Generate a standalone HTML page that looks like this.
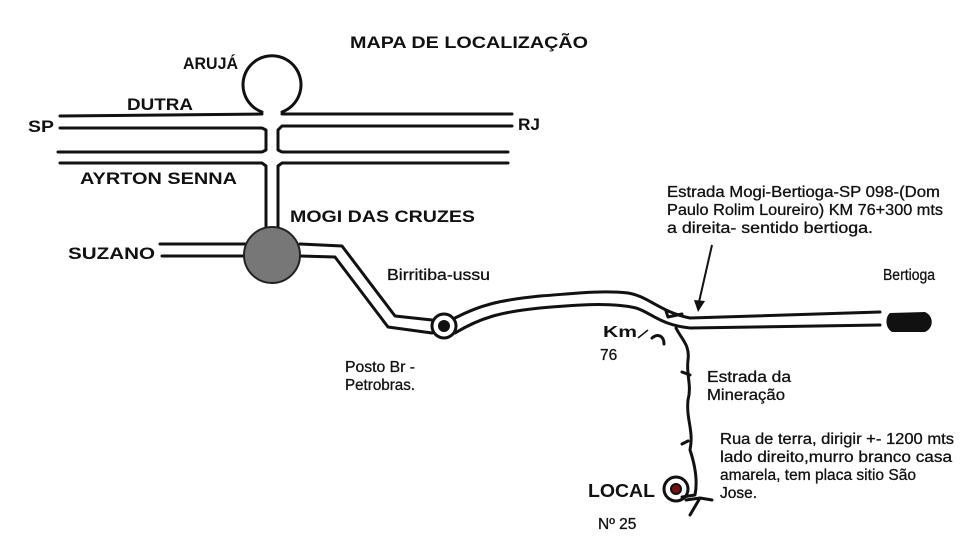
<!DOCTYPE html>
<html><head><meta charset="utf-8"><style>
html,body{margin:0;padding:0;background:#fff;}
svg{display:block;}
.t{font-family:"Liberation Sans",Arial,sans-serif;font-size:15.5px;fill:#111;stroke:#111;stroke-width:0.3;}
.b{font-family:"Liberation Sans",Arial,sans-serif;font-weight:bold;fill:#111;}
</style></head><body>
<svg width="977" height="550" viewBox="0 0 977 550" xmlns="http://www.w3.org/2000/svg">
<rect width="977" height="550" fill="#fff"/>
<g fill="none" stroke="#111" stroke-width="3" stroke-linecap="round" stroke-linejoin="round">
<path d="M60,116 L262,114 M282,114 L512,114"/>
<path d="M60,128 L262,128 L266,130 L266,150 L262,152 L58,152"/>
<path d="M512,126 L282,126 L278,130 L278,150 L282,152 L508,152"/>
<path d="M60,163 L262,163 L266,166 L266,228"/>
<path d="M508,163 L282,163 L278,166 L278,228"/>
<path d="M262,112 A29,29 0 1 1 282,112"/>
<path d="M160,244 L246,244 M162,256 L246,256"/>
<path d="M300,244 L342,246 L395,316 L432,320"/>
<path d="M300,256 L335,257 L388,327 L432,333"/>
<circle cx="444" cy="326" r="12"/>
<path d="M455,318 C480,305 500,300 540,296 C570,294 600,290 628,293 C648,296 660,312 690,318 L880,312"/>
<path d="M455,333 C480,318 500,312 540,308 C575,305 610,302 636,308 C650,312 660,325 690,328 L880,325"/>
<path d="M676,328 C682,340 690,345 688,360 C686,375 692,385 688,400 C686,420 694,430 690,450 C695,465 698,480 695,495 L682,497"/>
<path d="M686,500 L700,498 L712,500 M700,498 L690,515"/>
<path d="M666,311 L668,317 L682,314"/>
<path d="M652,338 C658,333 664,336 664,344"/>
<path d="M682,372 L690,375 M682,444 L688,441"/>
<circle cx="676" cy="489" r="12"/>
</g>
<circle cx="272" cy="255" r="28" fill="#777" stroke="#222" stroke-width="2"/>
<circle cx="444" cy="326" r="6" fill="#111"/>
<circle cx="676" cy="489" r="5" fill="#7a1010" stroke="#111" stroke-width="2"/>
<path d="M890,313 L925,312 C934,316 934,328 925,332 L892,332 C885,328 885,317 890,313Z" fill="#111"/>
<path d="M712,245 L699,302" stroke="#111" stroke-width="2"/>
<path d="M694,300 L698,312 L705,301Z" fill="#111"/>
<path d="M638,338 L648,330" stroke="#111" stroke-width="1.5"/>
<text class="b" x="350" y="48" font-size="17" textLength="238" lengthAdjust="spacingAndGlyphs">MAPA DE LOCALIZAÇÃO</text>
<text class="b" x="183" y="69" font-size="17" textLength="55" lengthAdjust="spacingAndGlyphs">ARUJÁ</text>
<text class="b" x="127" y="110" font-size="17" textLength="66" lengthAdjust="spacingAndGlyphs">DUTRA</text>
<text class="b" x="28" y="132" font-size="17" textLength="26" lengthAdjust="spacingAndGlyphs">SP</text>
<text class="b" x="518" y="130" font-size="17" textLength="22" lengthAdjust="spacingAndGlyphs">RJ</text>
<text class="b" x="80" y="184" font-size="17" textLength="157" lengthAdjust="spacingAndGlyphs">AYRTON SENNA</text>
<text class="b" x="290" y="222" font-size="17" textLength="185" lengthAdjust="spacingAndGlyphs">MOGI DAS CRUZES</text>
<text class="b" x="68" y="259" font-size="17" textLength="87" lengthAdjust="spacingAndGlyphs">SUZANO</text>
<text class="t" x="667" y="197" textLength="273" lengthAdjust="spacingAndGlyphs">Estrada Mogi-Bertioga-SP 098-(Dom</text>
<text class="t" x="667" y="215" textLength="276" lengthAdjust="spacingAndGlyphs">Paulo Rolim Loureiro) KM 76+300 mts</text>
<text class="t" x="667" y="233" textLength="206" lengthAdjust="spacingAndGlyphs">a direita- sentido bertioga.</text>
<text class="t" x="883" y="280" textLength="52" lengthAdjust="spacingAndGlyphs">Bertioga</text>
<text class="t" x="387" y="280" textLength="103" lengthAdjust="spacingAndGlyphs">Birritiba-ussu</text>
<text class="t" x="345" y="372" textLength="70" lengthAdjust="spacingAndGlyphs">Posto Br -</text>
<text class="t" x="345" y="390" textLength="70" lengthAdjust="spacingAndGlyphs">Petrobras.</text>
<text class="b" x="603" y="337" font-size="16" textLength="34" lengthAdjust="spacingAndGlyphs">Km</text>
<text class="t" x="600" y="360">76</text>
<text class="t" x="707" y="382" textLength="84" lengthAdjust="spacingAndGlyphs">Estrada da</text>
<text class="t" x="707" y="400" textLength="78" lengthAdjust="spacingAndGlyphs">Mineração</text>
<text class="t" x="720" y="444" textLength="234" lengthAdjust="spacingAndGlyphs">Rua de terra, dirigir +- 1200 mts</text>
<text class="t" x="720" y="462" textLength="232" lengthAdjust="spacingAndGlyphs">lado direito,murro branco casa</text>
<text class="t" x="720" y="480" textLength="196" lengthAdjust="spacingAndGlyphs">amarela, tem placa sitio São</text>
<text class="t" x="720" y="498">Jose.</text>
<text class="b" x="588" y="497" font-size="18" textLength="67" lengthAdjust="spacingAndGlyphs">LOCAL</text>
<text class="t" x="598" y="529">Nº 25</text>
</svg>
</body></html>
